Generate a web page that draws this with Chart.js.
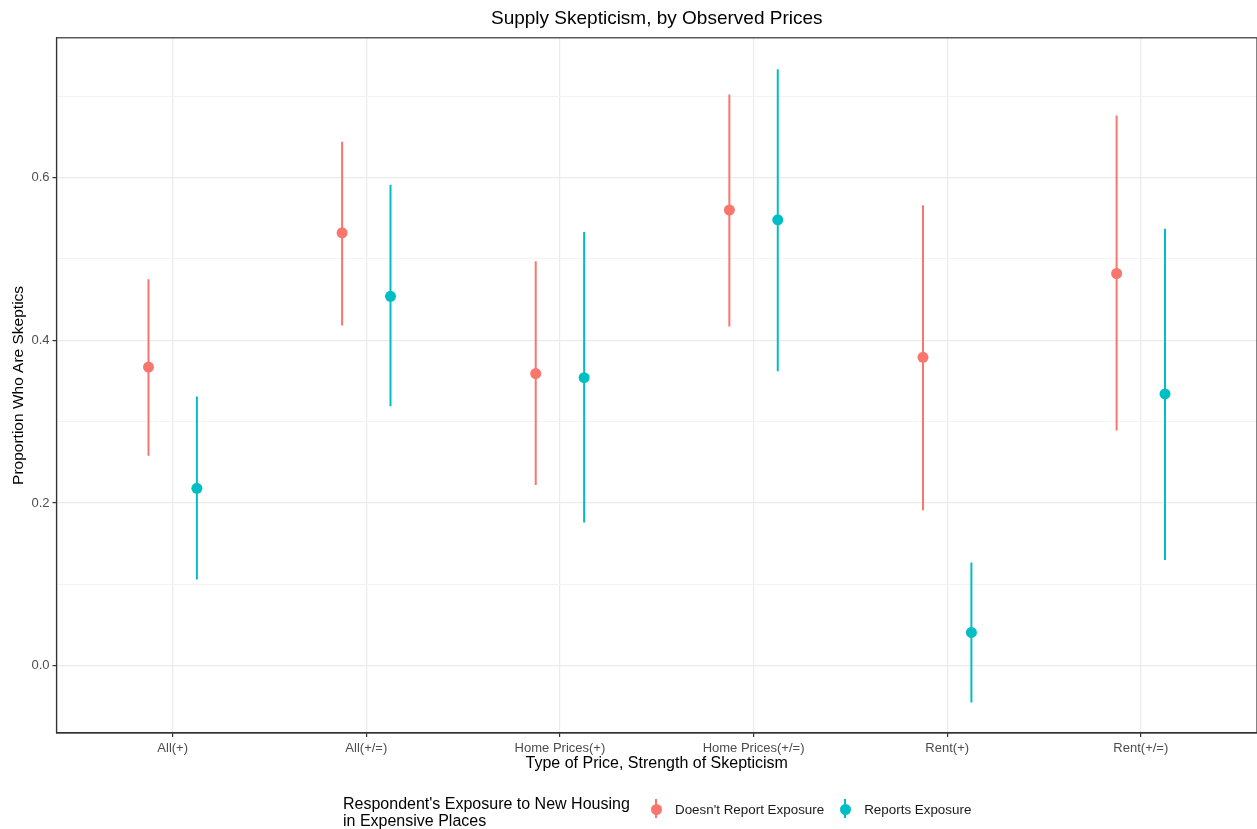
<!DOCTYPE html>
<html>
<head>
<meta charset="utf-8">
<script src="https://cdn.jsdelivr.net/npm/chart.js@4"></script>
<style>
  html, body { margin: 0; padding: 0; background: #fff; }
  #wrap { position: relative; width: 1257px; height: 829px; font-family: "Liberation Sans", Arial, sans-serif; }
  #chart { position: absolute; left: 0; top: 0; }
  #legend { position: absolute; left: 343px; top: 795px; display: flex; align-items: flex-start; }
  #legend .title { font-size: 16px; line-height: 17px; color: #000; width: 303px; }
  #legend .item { display: flex; align-items: center; margin-top: 3px; }
  #legend .key { position: relative; width: 20px; height: 22px; }
  #legend .key .bar { position: absolute; left: 9px; top: 1px; width: 2px; height: 19px; }
  #legend .key .dot { position: absolute; left: 4.5px; top: 6px; width: 11px; height: 11px; border-radius: 50%; }
  #legend .label { font-size: 13.4px; color: #1a1a1a; margin-left: 9px; margin-right: 11px; }
</style>
</head>
<body>
<div id="wrap">
  <canvas id="chart" width="1257" height="829"></canvas>
  <div id="legend"></div>
</div>
<script>
// Price type / skepticism strength
const categories = ['All(+)', 'All(+/=)', 'Home Prices(+)', 'Home Prices(+/=)', 'Rent(+)', 'Rent(+/=)'];

// Respondents who don't report exposure: estimate and interval
const noExposureEst = [0.367, 0.532, 0.359, 0.560, 0.379, 0.482];
const noExposureLow = [0.258, 0.418, 0.222, 0.417, 0.191, 0.289];
const noExposureHigh = [0.475, 0.644, 0.497, 0.702, 0.566, 0.676];

// Respondents who report exposure: estimate and interval
const exposureEst = [0.218, 0.454, 0.354, 0.548, 0.041, 0.334];
const exposureLow = [0.106, 0.319, 0.176, 0.362, -0.045, 0.130];
const exposureHigh = [0.331, 0.591, 0.533, 0.733, 0.127, 0.537];

const yTicks = [0, 0.1, 0.2, 0.3, 0.4, 0.5, 0.6, 0.7];
const seriesNames = ["Doesn't Report Exposure", 'Reports Exposure'];
const seriesColors = ['#F8766D', '#00BFC4'];
const dodge = 0.125;

function rangeData(low, high, shift) {
  const pts = [];
  low.forEach((lo, i) => {
    pts.push({ x: i + shift, y: lo });
    pts.push({ x: i + shift, y: high[i] });
    pts.push({ x: i + shift, y: null });
  });
  return pts;
}
function pointData(est, shift) {
  return est.map((v, i) => ({ x: i + shift, y: v }));
}

const groups = [
  { est: noExposureEst, lo: noExposureLow, hi: noExposureHigh, shift: -dodge },
  { est: exposureEst, lo: exposureLow, hi: exposureHigh, shift: dodge }
];
const datasets = [];
groups.forEach((g, k) => {
  datasets.push({
    type: 'line', label: seriesNames[k] + ' range',
    data: rangeData(g.lo, g.hi, g.shift),
    borderColor: seriesColors[k], borderWidth: 2, pointRadius: 0,
    spanGaps: false, fill: false
  });
  datasets.push({
    type: 'scatter', label: seriesNames[k],
    data: pointData(g.est, g.shift),
    backgroundColor: seriesColors[k], borderColor: seriesColors[k],
    pointRadius: 5.5, pointHoverRadius: 5.5, borderWidth: 0
  });
});

// Panel frame around the plotting area
const frame = {
  id: 'frame',
  afterDraw(chart) {
    const { ctx, chartArea: a } = chart;
    ctx.save();
    ctx.strokeStyle = '#333333';
    ctx.lineWidth = 1.2;
    ctx.strokeRect(a.left, a.top, a.right - a.left, a.bottom - a.top);
    ctx.restore();
  }
};

const font = { family: '"Liberation Sans", Arial, sans-serif' };
const isMajor = v => Math.round(v * 10) % 2 === 0;

new Chart(document.getElementById('chart'), {
  data: { datasets },
  options: {
    responsive: false,
    animation: false,
    layout: { autoPadding: false, padding: { left: 0, right: -1, top: 0, bottom: 56 } },
    plugins: {
      legend: { display: false },
      tooltip: { enabled: false },
      title: {
        display: true,
        fullSize: false,
        text: 'Supply Skepticism, by Observed Prices',
        color: '#000',
        font: { ...font, size: 19, weight: 'normal' },
        padding: { top: 7, bottom: 8 }
      }
    },
    scales: {
      x: {
        type: 'linear',
        min: -0.6, max: 5.6,
        afterBuildTicks: s => { s.ticks = categories.map((_, i) => ({ value: i })); },
        afterFit: s => { s.height = 40; s.paddingLeft = 0; s.paddingRight = 0; },
        ticks: {
          callback: v => categories[v],
          color: '#4D4D4D', font: { ...font, size: 13 }, padding: 4,
          maxRotation: 0, autoSkip: false
        },
        grid: { color: '#EBEBEB', lineWidth: 1.2, tickColor: '#333333', tickLength: 4 },
        border: { color: '#333333', width: 1.2 },
        title: {
          display: true, text: 'Type of Price, Strength of Skepticism',
          color: '#000', font: { ...font, size: 16 }, padding: { top: 0, bottom: 0 }
        }
      },
      y: {
        type: 'linear',
        min: -0.0826, max: 0.7716,
        afterBuildTicks: s => { s.ticks = yTicks.map(v => ({ value: v })); },
        afterFit: s => { s.width = 56.5; },
        ticks: {
          callback: v => (isMajor(v) ? v.toFixed(1) : ''),
          color: '#4D4D4D', font: { ...font, size: 13 }, padding: 3
        },
        grid: {
          color: c => (isMajor(c.tick.value) ? '#EBEBEB' : '#F3F3F3'),
          lineWidth: c => (isMajor(c.tick.value) ? 1.2 : 1),
          tickColor: c => (isMajor(c.tick.value) ? '#333333' : 'rgba(0,0,0,0)'),
          tickLength: 4
        },
        border: { color: '#333333', width: 1.2 },
        title: {
          display: true, text: 'Proportion Who Are Skeptics',
          color: '#000', font: { ...font, size: 15.5 }, padding: { top: 9, bottom: 0 }
        }
      }
    }
  },
  plugins: [frame]
});

// Legend below the plot
const legend = document.getElementById('legend');
legend.innerHTML = '<div class="title">Respondent\'s Exposure to New Housing<br>in Expensive Places</div>' +
  seriesNames.map((n, k) =>
    '<div class="item"><div class="key"><div class="bar" style="background:' + seriesColors[k] +
    '"></div><div class="dot" style="background:' + seriesColors[k] + '"></div></div><div class="label">' + n + '</div></div>'
  ).join('');
</script>
</body>
</html>
